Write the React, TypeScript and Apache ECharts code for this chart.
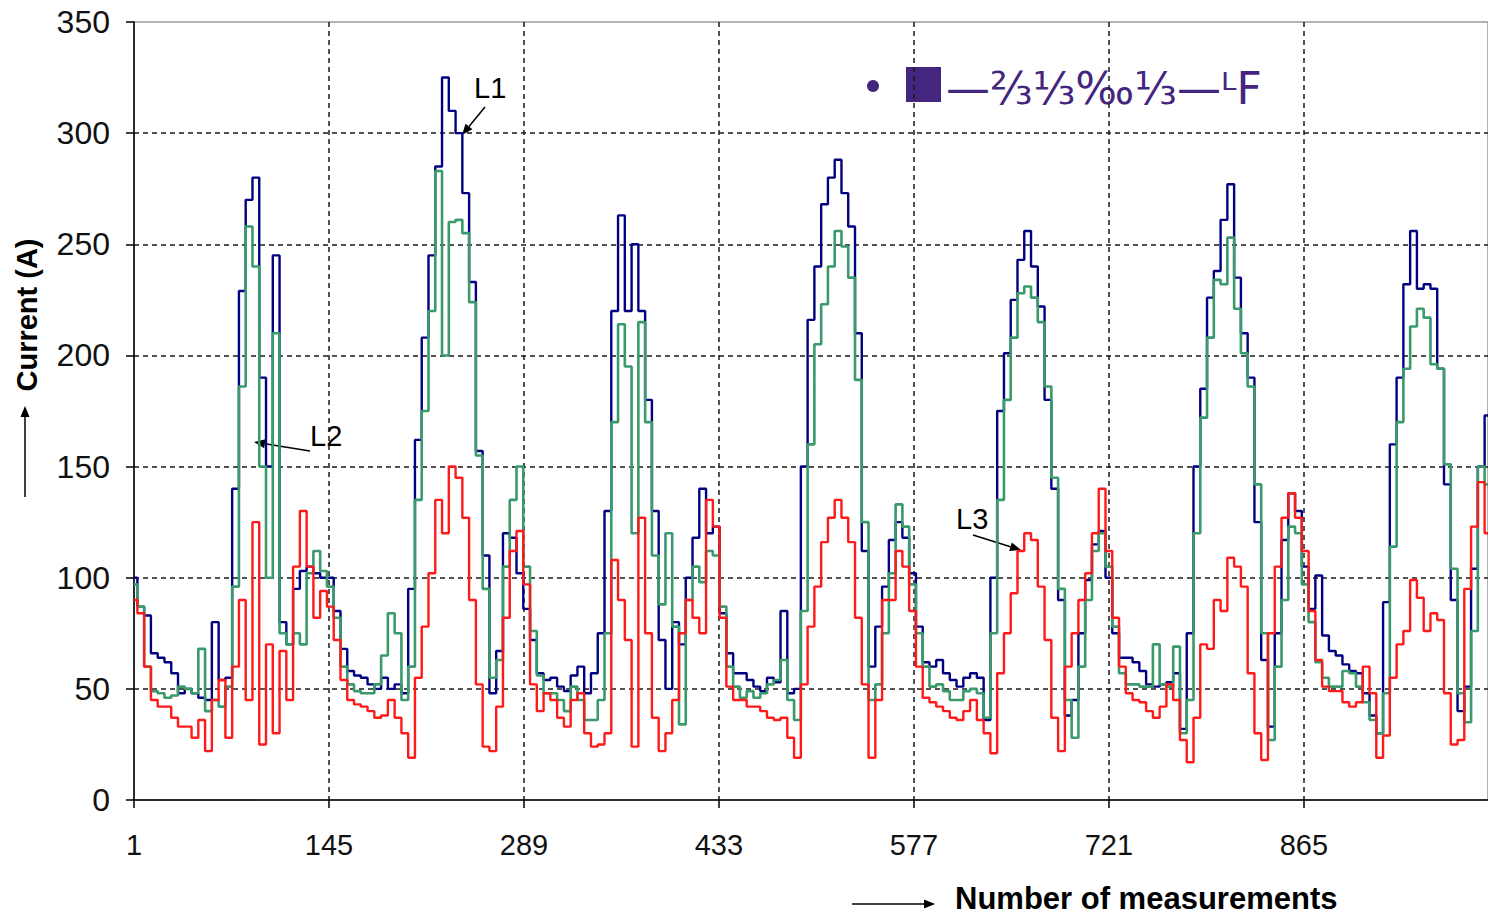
import React, { useEffect, useRef } from "react";
import * as echarts from "echarts";

// Sampling grid: one reading every 5 measurements (measurement number = 1 + 5k)
const sampleStep = 5;
const sampleCount = 201;

// L1 (navy)
const l1Current = [
  100, 87, 83, 66, 64, 62, 57, 48, 50, 48,
  46, 45, 80, 54, 55, 140, 229, 270, 280, 190,
  150, 245, 80, 70, 95, 103, 105, 102, 100, 100,
  85, 68, 58, 56, 55, 52, 50, 55, 50, 52,
  48, 95, 162, 208, 245, 285, 325, 310, 300, 273,
  233, 157, 110, 48, 67, 120, 118, 102, 86, 72,
  57, 54, 55, 51, 49, 56, 60, 48, 57, 75,
  130, 220, 263, 220, 250, 220, 180, 130, 72, 50,
  80, 70, 100, 118, 140, 120, 123, 84, 66, 57,
  57, 54, 51, 49, 55, 53, 85, 48, 50, 150,
  216, 240, 268, 280, 288, 273, 258, 210, 112, 60,
  78, 96, 117, 125, 118, 102, 78, 62, 60, 63,
  57, 54, 51, 55, 57, 55, 36, 100, 175, 201,
  225, 243, 256, 240, 222, 180, 140, 90, 38, 45,
  75, 99, 115, 121, 100, 75, 64, 64, 62, 58,
  52, 51, 52, 53, 57, 32, 75, 150, 185, 226,
  238, 261, 277, 235, 210, 190, 125, 63, 33, 75,
  117, 138, 130, 105, 86, 101, 74, 67, 65, 61,
  58, 57, 48, 38, 30, 89, 160, 190, 232, 256,
  230, 232, 230, 194, 142, 90, 40, 51, 104, 150,
  173,
];

// L2 (green)
const l2Current = [
  97, 87, 60, 49, 48, 46, 47, 51, 50, 48,
  68, 40, 45, 42, 51, 96, 186, 258, 240, 150,
  100, 210, 75, 70, 75, 70, 102, 112, 103, 96,
  82, 60, 52, 49, 48, 48, 52, 65, 84, 75,
  45, 60, 135, 175, 220, 283, 200, 260, 261, 255,
  224, 155, 95, 55, 63, 105, 135, 150, 105, 76,
  56, 48, 48, 45, 40, 51, 45, 36, 36, 45,
  75, 170, 214, 195, 120, 215, 170, 110, 88, 120,
  78, 34, 90, 105, 98, 112, 110, 87, 60, 51,
  46, 49, 46, 48, 52, 54, 63, 45, 36, 85,
  160, 205, 223, 240, 256, 249, 235, 189, 125, 45,
  52, 75, 102, 133, 123, 97, 75, 60, 51, 52,
  49, 45, 45, 49, 50, 48, 37, 75, 135, 180,
  208, 228, 231, 226, 215, 186, 145, 95, 45, 28,
  60, 90, 112, 120, 105, 78, 57, 52, 52, 51,
  51, 70, 52, 51, 69, 30, 45, 120, 172, 208,
  234, 232, 253, 221, 201, 186, 142, 75, 27, 60,
  90, 123, 120, 97, 80, 62, 55, 51, 51, 58,
  57, 51, 44, 36, 30, 48, 114, 170, 194, 213,
  221, 217, 196, 194, 151, 104, 48, 35, 76, 150,
  142,
];

// L3 (red)
const l3Current = [
  90, 84, 60, 45, 42, 42, 37, 33, 33, 28,
  36, 22, 45, 54, 28, 60, 90, 45, 125, 25,
  70, 30, 67, 45, 105, 130, 105, 82, 94, 87,
  72, 54, 45, 43, 42, 40, 37, 38, 45, 37,
  30, 19, 55, 78, 102, 135, 120, 150, 145, 127,
  90, 52, 24, 22, 42, 82, 112, 121, 97, 52,
  40, 48, 45, 37, 33, 45, 48, 30, 24, 25,
  30, 108, 90, 72, 24, 127, 75, 37, 22, 30,
  45, 75, 90, 82, 75, 135, 123, 82, 51, 45,
  45, 42, 42, 40, 37, 36, 37, 28, 19, 52,
  78, 96, 116, 127, 135, 127, 116, 82, 52, 19,
  45, 90, 90, 112, 105, 85, 60, 46, 44, 42,
  40, 37, 36, 40, 45, 36, 30, 21, 57, 75,
  93, 112, 120, 117, 96, 72, 37, 22, 60, 75,
  90, 102, 120, 140, 112, 82, 60, 48, 45, 44,
  40, 37, 42, 52, 45, 27, 17, 37, 70, 68,
  90, 85, 109, 105, 96, 57, 30, 18, 75, 105,
  127, 138, 127, 112, 85, 63, 51, 49, 49, 44,
  42, 44, 60, 48, 19, 29, 55, 70, 76, 99,
  91, 76, 84, 81, 48, 25, 27, 95, 123, 143,
  120,
];

const seriesNames = ["L1", "L2", "L3"];
const xTickStep = 144; // labels 1, 145, 289, ...
const xMax = 1000;
const yMax = 350;
const yTickStep = 50;
const legendText = "—⅔⅓‰⅓—ᴸF";

const toPoints = (values: number[]) =>
  values.slice(0, sampleCount).map((v, i) => [i * sampleStep, v]);

function arrow(x1: number, y1: number, x2: number, y2: number, len = 11, half = 4.5) {
  const dx = x2 - x1;
  const dy = y2 - y1;
  const d = Math.sqrt(dx * dx + dy * dy);
  const ux = dx / d;
  const uy = dy / d;
  const bx = x2 - ux * len;
  const by = y2 - uy * len;
  const px = -uy;
  const py = ux;
  return [
    {
      type: "line",
      shape: { x1, y1, x2: bx, y2: by },
      style: { stroke: "#000", lineWidth: 1.5 },
      silent: true,
    },
    {
      type: "polygon",
      shape: {
        points: [
          [x2, y2],
          [bx + px * half, by + py * half],
          [bx - px * half, by - py * half],
        ],
      },
      style: { fill: "#000" },
      silent: true,
    },
  ];
}

export default function App() {
  const ref = useRef<HTMLDivElement>(null);

  useEffect(() => {
    document.body.style.margin = "0";
    if (!ref.current) return;
    const chart = echarts.init(ref.current, undefined, { renderer: "svg" });
    const gridColor = "#1a1a1a";
    const clear = "rgba(0,0,0,0)";
    const font = "'Liberation Sans', Arial, sans-serif";
    const legendColor = "#45267f";

    chart.setOption({
      animation: false,
      backgroundColor: "#fff",
      grid: {
        left: 134,
        right: 0,
        top: 22,
        bottom: 115,
        show: true,
        borderColor: "#9a9a9a",
        borderWidth: 1.5,
        backgroundColor: "transparent",
      },
      xAxis: {
        type: "value",
        min: 0,
        max: xMax,
        interval: xTickStep,
        axisLine: { show: true, lineStyle: { color: "#000", width: 1.5 } },
        axisTick: { show: true, length: 8, lineStyle: { color: "#000", width: 1.5 } },
        axisLabel: {
          margin: 30,
          fontSize: 29,
          color: "#111",
          fontFamily: font,
          showMaxLabel: false,
          formatter: (v: number) => (v >= xMax ? "" : String(v + 1)),
        },
        splitLine: {
          show: true,
          lineStyle: {
            color: [clear, gridColor, gridColor, gridColor, gridColor, gridColor, gridColor, clear],
            type: [5, 4],
            width: 1.5,
          },
        },
      },
      yAxis: {
        type: "value",
        min: 0,
        max: yMax,
        interval: yTickStep,
        axisLine: { show: true, lineStyle: { color: "#000", width: 1.5 } },
        axisTick: { show: true, length: 8, lineStyle: { color: "#000", width: 1.5 } },
        axisLabel: {
          margin: 24,
          fontSize: 32,
          color: "#111",
          fontFamily: font,
        },
        splitLine: {
          show: true,
          lineStyle: {
            color: [clear, gridColor, gridColor, gridColor, gridColor, gridColor, gridColor, clear],
            type: [5, 4],
            width: 1.5,
          },
        },
      },
      series: [
        {
          name: seriesNames[0],
          type: "line",
          step: "middle",
          data: toPoints(l1Current),
          showSymbol: false,
          symbol: "none",
          lineStyle: { color: "#000080", width: 2.4 },
          z: 2,
        },
        {
          name: seriesNames[1],
          type: "line",
          step: "middle",
          data: toPoints(l2Current),
          showSymbol: false,
          symbol: "none",
          lineStyle: { color: "#3a9a6c", width: 2.6 },
          z: 3,
        },
        {
          name: seriesNames[2],
          type: "line",
          step: "middle",
          data: toPoints(l3Current),
          showSymbol: false,
          symbol: "none",
          lineStyle: { color: "#ff1a1a", width: 2.4 },
          z: 4,
        },
      ],
      graphic: [
        // y-axis title and arrow
        {
          type: "text",
          x: 27,
          y: 315,
          rotation: Math.PI / 2,
          style: {
            text: "Current (A)",
            font: `bold 29px 'Liberation Sans Narrow', 'Liberation Sans', Arial`,
            fill: "#000",
            align: "center",
            verticalAlign: "middle",
          },
        },
        ...arrow(25, 497, 25, 406),
        // x-axis title and arrow
        {
          type: "text",
          x: 955,
          y: 898,
          style: {
            text: "Number of measurements",
            font: `bold 31px 'Liberation Sans', Arial`,
            fill: "#000",
            align: "left",
            verticalAlign: "middle",
          },
        },
        ...arrow(852, 904, 935, 904),
        // series annotations
        {
          type: "text",
          x: 474,
          y: 88,
          style: { text: seriesNames[0], font: `29px 'Liberation Sans', Arial`, fill: "#000", verticalAlign: "middle" },
        },
        ...arrow(485, 107, 462, 135),
        {
          type: "text",
          x: 310,
          y: 436,
          style: { text: seriesNames[1], font: `29px 'Liberation Sans', Arial`, fill: "#000", verticalAlign: "middle" },
        },
        ...arrow(310, 451, 254, 442),
        {
          type: "text",
          x: 956,
          y: 519,
          style: { text: seriesNames[2], font: `29px 'Liberation Sans', Arial`, fill: "#000", verticalAlign: "middle" },
        },
        ...arrow(973, 535, 1021, 550),
        // garbled legend
        { type: "circle", shape: { cx: 873, cy: 86, r: 6 }, style: { fill: legendColor } },
        { type: "rect", shape: { x: 906, y: 67, width: 35, height: 35 }, style: { fill: legendColor } },
        {
          type: "text",
          x: 946,
          y: 88,
          style: {
            text: legendText,
            font: `44px 'DejaVu Sans', 'Noto Sans', sans-serif`,
            fill: legendColor,
            verticalAlign: "middle",
          },
        },
      ],
    });

    return () => chart.dispose();
  }, []);

  return (
    <div
      ref={ref}
      style={{ position: "fixed", left: 0, top: 0, width: 1488, height: 915, background: "#fff" }}
    />
  );
}
